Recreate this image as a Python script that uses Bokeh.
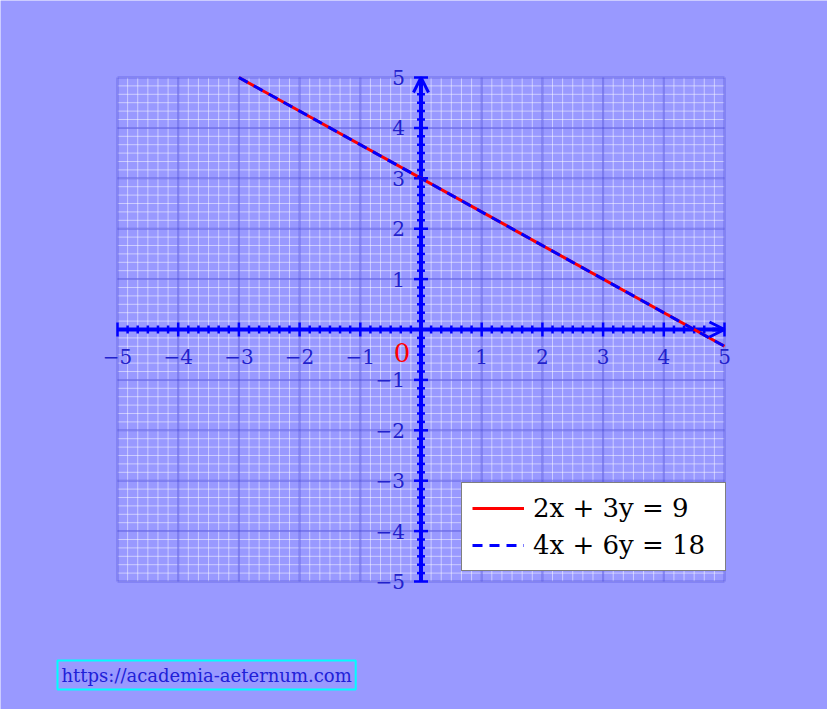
import numpy as np
from bokeh.plotting import figure
from bokeh.models import Range1d, Arrow, OpenHead, Label, Legend, LegendItem
from bokeh.embed import file_html
from bokeh.resources import INLINE
from bokeh.core.properties import value

# ---- data ----
x_ticks = [-5, -4, -3, -2, -1, 1, 2, 3, 4, 5]
x_tick_labels = ["−5", "−4", "−3", "−2", "−1", "1", "2", "3", "4", "5"]
y_ticks = [-5, -4, -3, -2, -1, 1, 2, 3, 4, 5]
y_tick_labels = ["−5", "−4", "−3", "−2", "−1", "1", "2", "3", "4", "5"]
line1_x = [-3, 5]
line1_y = [5, -1 / 3]
line2_x = [-3, 5]
line2_y = [5, -1 / 3]
line1_label = "2x + 3y = 9"
line2_label = "4x + 6y = 18"
origin_label = "0"
url_text = "https://academia-aeternum.com"

# ---- style ----
BG = "#9999ff"
AXIS = "#0000ff"
LBL = "#2222cc"
FONT = "DejaVu Serif"

p = figure(width=827, height=709,
           x_range=Range1d(-6.9275, 6.6969), y_range=Range1d(-7.5397, 6.5278),
           output_backend="svg", toolbar_location=None,
           x_axis_location=None, y_axis_location=None, min_border=0,
           background_fill_color=BG, border_fill_color=BG,
           outline_line_color=None)
p.grid.visible = False

minor = np.arange(-30, 31) / 6.0
major = np.arange(-5, 6)

# minor grid (white)
p.segment(x0=minor, y0=-5, x1=minor, y1=5, line_color="white", line_alpha=0.5, line_width=1)
p.segment(x0=-5, y0=minor, x1=5, y1=minor, line_color="white", line_alpha=0.5, line_width=1)
# major grid
p.segment(x0=major, y0=-5, x1=major, y1=5, line_color="#4a4ae0", line_alpha=0.55, line_width=2)
p.segment(x0=-5, y0=major, x1=5, y1=major, line_color="#4a4ae0", line_alpha=0.55, line_width=2)

# axes
p.segment(x0=[-5], y0=[0], x1=[5], y1=[0], line_color=AXIS, line_width=4)
p.segment(x0=[0], y0=[-5], x1=[0], y1=[5], line_color=AXIS, line_width=4)

minor_t = minor[(np.abs(minor - np.round(minor)) > 1e-6) & (minor < 4.7)]
p.scatter(x=minor_t, y=0, marker="dash", size=8, angle=np.pi / 2,
          line_color=AXIS, line_width=2.5)
p.scatter(x=0, y=minor_t, marker="dash", size=8, angle=0,
          line_color=AXIS, line_width=2.5)
p.scatter(x=major, y=0, marker="dash", size=14, angle=np.pi / 2,
          line_color=AXIS, line_width=2.5)
p.scatter(x=0, y=major, marker="dash", size=14, angle=0,
          line_color=AXIS, line_width=2.5)

p.add_layout(Arrow(end=OpenHead(size=15, line_color=AXIS, line_width=3),
                   x_start=4.8, y_start=0, x_end=5, y_end=0,
                   line_color=AXIS, line_width=4))
p.add_layout(Arrow(end=OpenHead(size=15, line_color=AXIS, line_width=3),
                   x_start=0, y_start=4.8, x_end=0, y_end=5,
                   line_color=AXIS, line_width=4))

# tick labels
p.text(x=x_ticks, y=0, text=x_tick_labels, y_offset=27,
       text_align="center", text_baseline="middle",
       text_font=value(FONT), text_font_size="20px", text_color=LBL)
p.text(x=0, y=y_ticks, text=y_tick_labels, x_offset=-16,
       text_align="right", text_baseline="middle",
       text_font=value(FONT), text_font_size="20px", text_color=LBL)
p.text(x=[0], y=[0], text=[origin_label], x_offset=-19, y_offset=23,
       text_align="center", text_baseline="middle",
       text_font=value(FONT), text_font_size="26px", text_color="red")

# lines
r1 = p.line(line1_x, line1_y, line_color="red", line_width=3)
r2 = p.line(line2_x, line2_y, line_color="blue", line_width=3, line_dash="10 7")

legend = Legend(items=[LegendItem(label=line1_label, renderers=[r1]),
                       LegendItem(label=line2_label, renderers=[r2])],
                location=(461, 138), margin=0,
                background_fill_color="white", background_fill_alpha=1.0,
                border_line_color="black", border_line_width=1.5,
                label_text_font=FONT, label_text_font_size="26px",
                label_text_color="black",
                glyph_width=52, glyph_height=30, label_height=30,
                label_width=182,
                label_standoff=9, padding=10, spacing=7)
p.add_layout(legend)

p.add_layout(Label(x=57, y=20, x_units="screen", y_units="screen",
                   text=url_text, text_font=FONT, text_font_size="18px",
                   text_color="#2020d8", text_baseline="bottom",
                   border_line_color="#00ffff", border_line_width=2,
                   background_fill_color=BG, padding=4))

open("out.html", "w").write(file_html(p, INLINE))
